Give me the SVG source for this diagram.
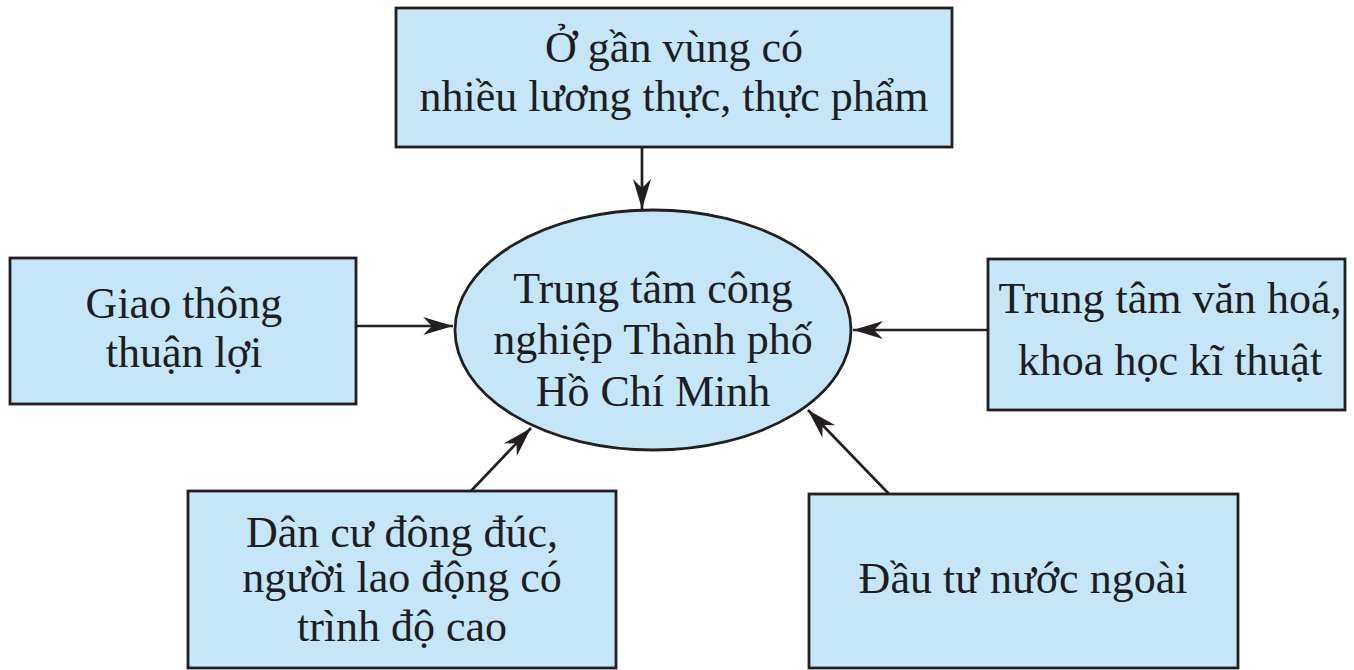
<svg xmlns="http://www.w3.org/2000/svg" width="1354" height="670" viewBox="0 0 1354 670">
<style>
.box{fill:#c4e6f6;stroke:#231f20;stroke-width:2.8}
.t{font-family:"Liberation Serif","Times New Roman",serif;font-size:44px;fill:#1d1d22;text-anchor:middle}
.c{stroke:#231f20;stroke-width:2.7;fill:none;marker-end:url(#ah)}
</style>
<defs>
<marker id="ah" viewBox="-32 -11 34 22" refX="0" refY="0" markerWidth="34" markerHeight="22" markerUnits="userSpaceOnUse" orient="auto">
<path d="M0,0 L-30,-9 L-21,0 L-30,9 Z" fill="#231f20"/>
</marker>
</defs>
<rect width="1354" height="670" fill="#ffffff"/>
<g id="connectors">
<line class="c" x1="642" y1="148" x2="642" y2="209"/>
<line class="c" x1="356" y1="326" x2="453" y2="326"/>
<line class="c" x1="988" y1="330" x2="853" y2="330"/>
<line class="c" x1="471" y1="491" x2="531" y2="428"/>
<line class="c" x1="889" y1="494" x2="808" y2="410"/>
</g>
<g id="node-center">
<ellipse class="box" cx="653" cy="330" rx="198" ry="120"/>
<text class="t" x="653" y="303">Trung tâm công</text>
<text class="t" x="653" y="354">nghiệp Thành phố</text>
<text class="t" x="653" y="406">Hồ Chí Minh</text>
</g>
<g id="node-top">
<rect class="box" x="396" y="8" width="556" height="139"/>
<text class="t" x="674" y="62">Ở gần vùng có</text>
<text class="t" x="674" y="111">nhiều lương thực, thực phẩm</text>
</g>
<g id="node-left">
<rect class="box" x="10" y="258" width="346" height="146"/>
<text class="t" x="184" y="318">Giao thông</text>
<text class="t" x="184" y="367">thuận lợi</text>
</g>
<g id="node-right">
<rect class="box" x="988" y="259" width="357" height="151"/>
<text class="t" x="1170" y="313">Trung tâm văn hoá,</text>
<text class="t" x="1170" y="375">khoa học kĩ thuật</text>
</g>
<g id="node-bottom-left">
<rect class="box" x="188" y="491" width="428" height="177"/>
<text class="t" x="402" y="547">Dân cư đông đúc,</text>
<text class="t" x="402" y="592">người lao động có</text>
<text class="t" x="402" y="641">trình độ cao</text>
</g>
<g id="node-bottom-right">
<rect class="box" x="809" y="494" width="429" height="174"/>
<text class="t" x="1023" y="593">Đầu tư nước ngoài</text>
</g>
</svg>
